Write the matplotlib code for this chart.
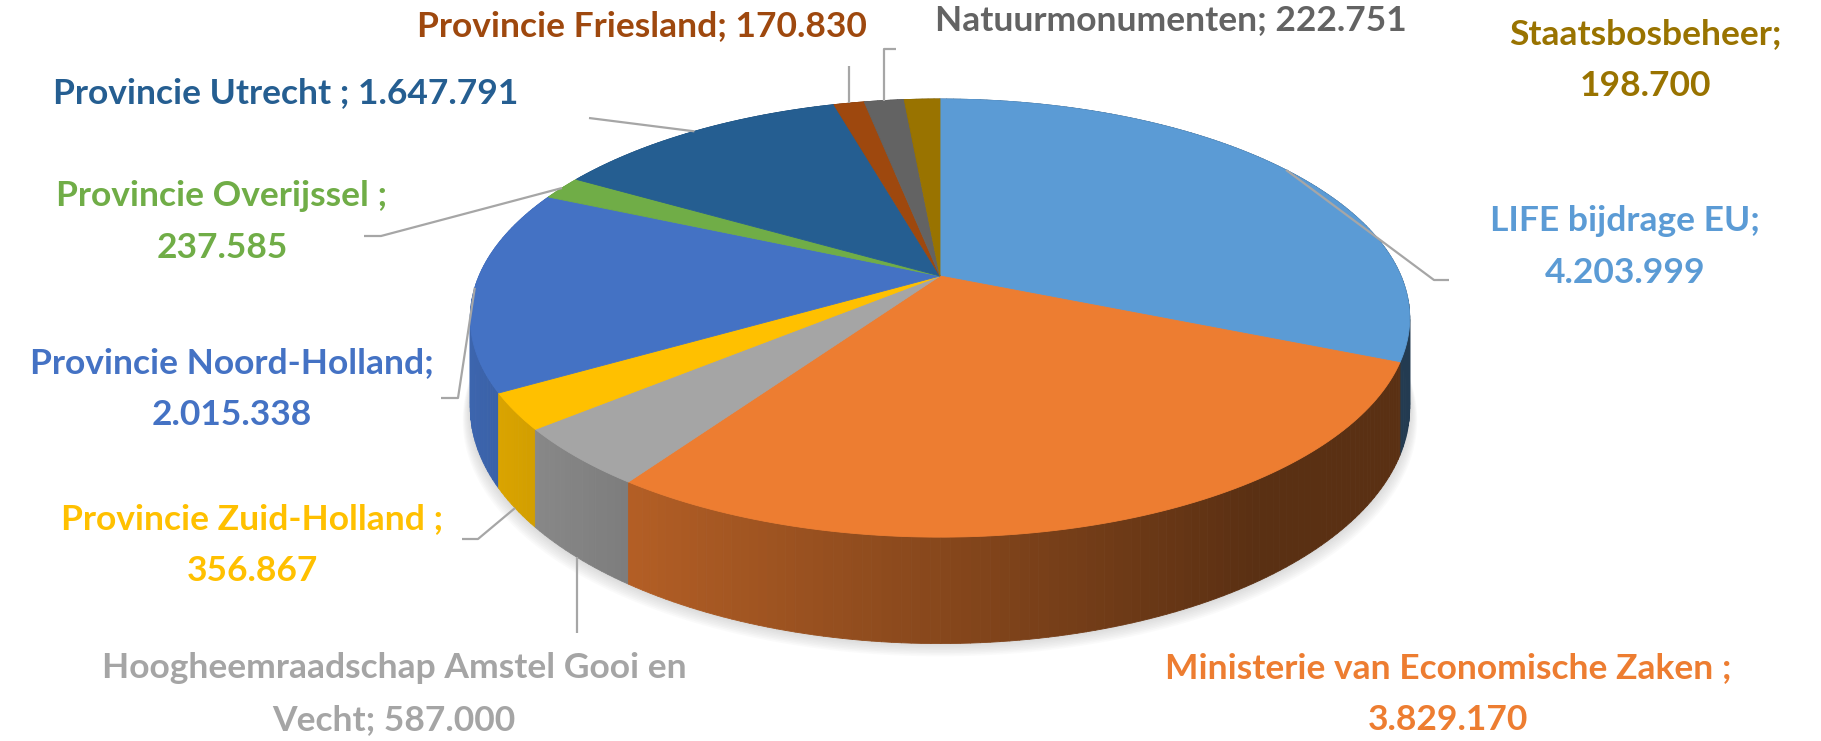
import numpy as np
import matplotlib.pyplot as plt
from matplotlib.patches import Polygon
from matplotlib.collections import PolyCollection
from matplotlib.colors import to_rgb

names = ["LIFE bijdrage EU", "Ministerie van Economische Zaken ",
         "Hoogheemraadschap Amstel Gooi en\nVecht", "Provincie Zuid-Holland ",
         "Provincie Noord-Holland", "Provincie Overijssel ", "Provincie Utrecht ",
         "Provincie Friesland", "Natuurmonumenten", "Staatsbosbeheer"]
values = [4203999, 3829170, 587000, 356867, 2015338, 237585, 1647791, 170830, 222751, 198700]
colors = ["#5B9BD5", "#ED7D31", "#A5A5A5", "#FFC000", "#4472C4",
          "#70AD47", "#255E91", "#9E480E", "#636363", "#997300"]
seps = ["\n", "\n", " ", "\n", "\n", "\n", " ", " ", " ", "\n"]

# layout (pixels)
W, H = 1821, 741
cx, cy = 940, 276
A, B, k, T = 461, 211, 0.192, 86
label_xy = [(1625, 247), (1448, 694), (394, 694), (252, 545), (232, 389),
            (222, 222), (286, 93), (642, 26), (1171, 20), (1645, 60)]
anchor_on_bottom = [False, False, True, True, False, False, False, False, False, False]
leaders = {0: [(1434, 280), (1449, 280)],
           2: [(None, 633)],
           3: [(478, 539), (462, 539)],
           4: [(458, 398), (441, 398)],
           5: [(381, 236), (364, 236)],
           6: [(589, 118)],
           7: [(None, 66)],
           8: [(None, 49), ("+12", 49)]}


def proj(phi, depth=0.0):
    x, d = np.sin(phi), np.cos(phi)
    w = 1 + k * d
    return cx + A * x / w, cy - B * d / w + depth / w


def fmt(v):
    return f"{v:,}".replace(",", ".")


total = sum(values)
edges = np.concatenate([[0], np.cumsum(values)]) / total * 2 * np.pi

fig = plt.figure(figsize=(W / 100, H / 100), dpi=100)
ax = fig.add_axes([0, 0, 1, 1])
ax.set_xlim(0, W)
ax.set_ylim(H, 0)
ax.axis("off")

# soft shadow under the pie
ring = np.linspace(0, 2 * np.pi, 400)
for s in range(1, 9):
    bx, by = proj(ring, T)
    ax.add_patch(Polygon(np.column_stack([cx + (bx - cx) * (1 + s * 0.002), by + s * 1.6]),
                         closed=True, fc="0.5", ec="none", alpha=0.035, zorder=1))

# side walls
quads, qcols, qkeys = [], [], []
for i, v in enumerate(values):
    a0, a1 = edges[i], edges[i + 1]
    n = max(2, int(np.degrees(a1 - a0)) + 2)
    ph = np.linspace(a0, a1, n)
    base = np.array(to_rgb(colors[i]))
    for p0, p1 in zip(ph[:-1], ph[1:]):
        x0, y0 = proj(p0)
        x1, y1 = proj(p1)
        x2, y2 = proj(p1, T)
        x3, y3 = proj(p0, T)
        quads.append([(x0, y0), (x1, y1), (x2, y2), (x3, y3)])
        pm = 0.5 * (p0 + p1)
        shade = np.clip(0.57 - 0.33 * np.sin(pm), 0.38, 0.92)
        qcols.append(base * shade)
        qkeys.append(-np.cos(pm))
order = np.argsort(qkeys)
ax.add_collection(PolyCollection([quads[j] for j in order],
                                 facecolors=[qcols[j] for j in order],
                                 edgecolors=[qcols[j] for j in order],
                                 linewidths=0.6, zorder=2))

# top face
for i, v in enumerate(values):
    ph = np.linspace(edges[i], edges[i + 1], 100)
    px, py = proj(ph)
    pts = np.column_stack([np.concatenate([[cx], px]), np.concatenate([[cy], py])])
    ax.add_patch(Polygon(pts, closed=True, fc=colors[i], ec=colors[i], lw=0.6, zorder=3))

# leader lines
for i, pts in leaders.items():
    mid = 0.5 * (edges[i] + edges[i + 1])
    axx, ayy = proj(mid, T if anchor_on_bottom[i] else 0)
    xs, ys = [axx], [ayy]
    for px, py in pts:
        if px is None:
            px = axx
        elif isinstance(px, str):
            px = axx + float(px)
        xs.append(px)
        ys.append(py)
    ax.plot(xs, ys, color="#A6A6A6", lw=1.6, zorder=4, solid_capstyle="butt")

# labels
for i, v in enumerate(values):
    x, y = label_xy[i]
    ax.text(x, y, names[i] + ";" + seps[i] + fmt(v), color=colors[i],
            family=["Lato", "DejaVu Sans"], weight="bold", fontsize=25.5,
            ha="center", va="center", multialignment="center", linespacing=1.8,
            zorder=5)

fig.savefig("out.png", dpi=100, facecolor="white")
